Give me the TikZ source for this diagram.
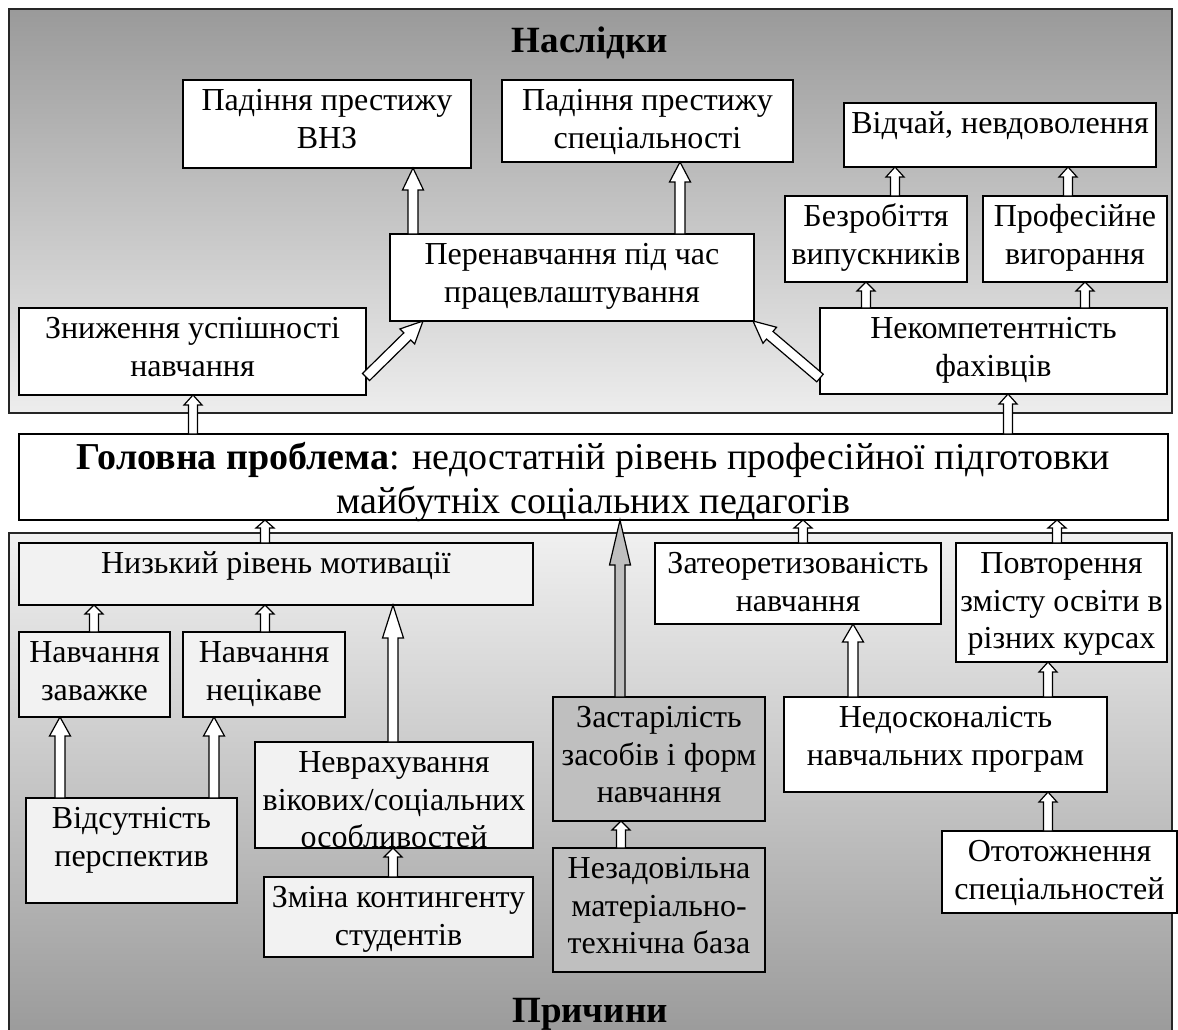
\documentclass[tikz,border=0pt]{standalone}
\usepackage{fontspec}
\setmainfont{Liberation Serif}
\usetikzlibrary{calc}
\definecolor{boxlight}{HTML}{F2F2F2}
\definecolor{boxgray}{HTML}{BFBFBF}
\definecolor{topdark}{HTML}{9A9A9A}
\definecolor{toplight}{HTML}{EDEDED}
\definecolor{botlight}{HTML}{F0F0F0}
\definecolor{botdark}{HTML}{999999}
\newcommand{\bt}[3]{\parbox[c][#2pt][t]{#1pt}{\centering\rule{0pt}{30.5pt}#3}}
\newcommand{\barr}[6][white]{%
  \coordinate (hb) at ($(#3)!#4pt!(#2)$);
  \draw[arrline, fill=#1] ($(#2)!#5pt!90:(#3)$) -- ($(hb)!#5pt!90:(#3)$) -- ($(hb)!#6pt!90:(#3)$) -- (#3)
    -- ($(hb)!#6pt!-90:(#3)$) -- ($(hb)!#5pt!-90:(#3)$) -- ($(#2)!#5pt!-90:(#3)$) -- cycle;}
\tikzset{
  bx/.style={draw=black, line width=1.3pt, inner sep=0pt, outer sep=0pt, font=\fontsize{32}{37.5}\selectfont},
  wbox/.style={bx, fill=white},
  lbox/.style={bx, fill=boxlight},
  gbox/.style={bx, fill=boxgray},
  arrline/.style={draw=black, line width=1.2pt, line join=miter},
  panel/.style={draw=black!85, line width=1.6pt, shading angle=45},
  ttl/.style={anchor=base, inner sep=0pt, font=\fontsize{37}{40}\selectfont\bfseries},
}
\begin{document}
\begin{tikzpicture}[x=1pt, y=-1pt]
\useasboundingbox (0,0) rectangle (1178,1029);
% panels
\path[panel, top color=topdark, bottom color=toplight] (9,9) rectangle (1172,413);
\path[panel, top color=botlight, bottom color=botdark] (9,533) rectangle (1172,1045);
\node[ttl] (tN) at (590,52) {Наслідки};
\node[ttl] (tP) at (590,1022) {Причини};
% consequences
\node[wbox] (vnz) at (327,124) {\bt{288}{88}{Падіння престижу\\ВНЗ}};
\node[wbox] (spec) at (647.5,121) {\bt{291}{82}{Падіння престижу\\спеціальності}};
\node[wbox] (vidchai) at (1000,135) {\bt{312}{64}{Відчай, невдоволення}};
\node[wbox] (bezrob) at (876,239) {\bt{182}{86}{Безробіття\\випускників}};
\node[wbox] (prof) at (1075,239) {\bt{184}{86}{Професійне\\вигорання}};
\node[wbox] (perN) at (572,277.5) {\bt{364}{87}{Перенавчання під час\\працевлаштування}};
\node[wbox] (zn) at (192.5,351.5) {\bt{347}{87}{Зниження успішності\\навчання}};
\node[wbox] (nekomp) at (993.5,351) {\bt{347}{86}{Некомпетентність\\фахівців}};
% main problem
\node[wbox, font=\fontsize{38}{44}\selectfont] (main) at (593.5,477)
  {\parbox[c][86pt][t]{1149pt}{\centering\rule{0pt}{35pt}\textbf{Головна проблема}: недостатній рівень професійної підготовки\\майбутніх соціальних педагогів}};
% causes
\node[lbox] (nyzk) at (276,574) {\bt{514}{62}{Низький рівень мотивації}};
\node[lbox] (zavazh) at (94.5,674.5) {\bt{151}{85}{Навчання\\заважке}};
\node[lbox] (netsik) at (264,674.5) {\bt{162}{85}{Навчання\\нецікаве}};
\node[lbox] (vidsut) at (131.5,850.5) {\bt{211}{105}{Відсутність\\перспектив}};
\node[lbox] (nevrah) at (394,795) {\bt{278}{106}{Неврахування\\вікових/соціальних\\особливостей}};
\node[lbox] (zmina) at (398.5,917) {\bt{269}{80}{Зміна контингенту\\студентів}};
\node[gbox] (zastar) at (659,759) {\bt{212}{124}{Застарілість\\засобів і форм\\навчання}};
\node[gbox] (nezad) at (659,910) {\bt{212}{124}{Незадовільна\\матеріально-\\технічна база}};
\node[wbox] (zateor) at (798,583.5) {\bt{286}{81}{Затеоретизованість\\навчання}};
\node[wbox] (povtor) at (1061.5,602.5) {\bt{211}{119}{Повторення\\змісту освіти в\\різних курсах}};
\node[wbox] (nedosk) at (945.5,744.5) {\bt{323}{95}{Недосконалість\\навчальних програм}};
\node[wbox] (ototozh) at (1059.5,872) {\bt{235}{82}{Ототожнення\\спеціальностей}};
% arrows: consequences
\barr{perN.north -| 413,0}{vnz.south -| 413,0}{22}{5}{10.5}
\barr{perN.north -| 680,0}{spec.south -| 680,0}{20}{5}{10.5}
\barr{zn.east |- 0,377}{perN.south -| 423,0}{22}{5}{10.5}
\barr{nekomp.west |- 0,378}{perN.south -| 753,0}{22}{5}{10.5}
\barr{bezrob.north -| 895,0}{vidchai.south -| 895,0}{10}{4.5}{9}
\barr{prof.north -| 1068,0}{vidchai.south -| 1068,0}{10}{4.5}{9}
\barr{nekomp.north -| 866,0}{bezrob.south -| 866,0}{9}{4.5}{9}
\barr{nekomp.north -| 1085,0}{prof.south -| 1085,0}{9}{4.5}{9}
\barr{main.north -| 193,0}{zn.south -| 193,0}{10}{4.5}{9}
\barr{main.north -| 1008,0}{nekomp.south -| 1008,0}{10}{4.5}{9}
% arrows: causes
\barr{nyzk.north -| 265,0}{main.south -| 265,0}{8}{4.5}{9}
\barr{zavazh.north -| 94,0}{nyzk.south -| 94,0}{9}{4.5}{9}
\barr{netsik.north -| 265,0}{nyzk.south -| 265,0}{9}{4.5}{9}
\barr{vidsut.north -| 60,0}{zavazh.south -| 60,0}{19}{5}{10.5}
\barr{vidsut.north -| 214,0}{netsik.south -| 214,0}{19}{5}{10.5}
\barr{nevrah.north -| 393,0}{nyzk.south -| 393,0}{33}{5}{10.5}
\barr{zmina.north -| 393,0}{nevrah.south -| 393,0}{9}{4.5}{9}
\barr[boxgray]{zastar.north -| 620,0}{main.south -| 620,0}{45}{5}{10.5}
\barr{nezad.north -| 621,0}{zastar.south -| 621,0}{9}{4.5}{9}
\barr{zateor.north -| 803,0}{main.south -| 803,0}{8}{4.5}{9}
\barr{povtor.north -| 1057,0}{main.south -| 1057,0}{8}{4.5}{9}
\barr{nedosk.north -| 853,0}{zateor.south -| 853,0}{18}{5}{10.5}
\barr{nedosk.north -| 1048,0}{povtor.south -| 1048,0}{10}{4.5}{9}
\barr{ototozh.north -| 1048,0}{nedosk.south -| 1048,0}{10}{4.5}{9}
\end{tikzpicture}
\end{document}
